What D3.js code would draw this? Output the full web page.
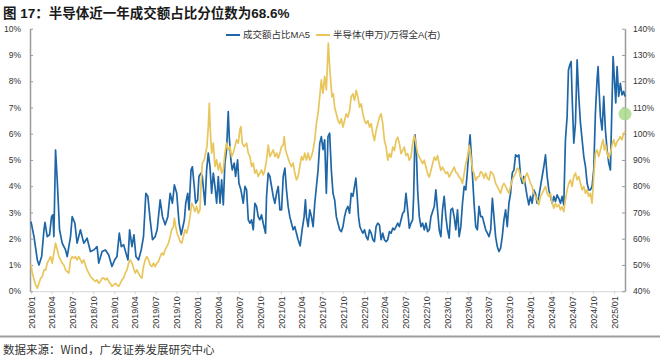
<!DOCTYPE html>
<html><head><meta charset="utf-8">
<script src="https://cdn.jsdelivr.net/npm/d3@7"></script>
<style>body{margin:0;background:#fff;}svg{display:block;}</style>
</head><body>
<svg id="chart" width="660" height="355"></svg>
<script>
const titleText = "图 17：半导体近一年成交额占比分位数为68.6%";
const sourceText = "数据来源：Wind，广发证券发展研究中心";
const legendLabels = ["成交额占比MA5", "半导体(申万)/万得全A(右)"];
const leftTicks = [0,1,2,3,4,5,6,7,8,9,10];
const rightTicks = [40,50,60,70,80,90,100,110,120,130,140];
const xTickLabels = ["2018/01","2018/04","2018/07","2018/10","2019/01","2019/04","2019/07","2019/10",
 "2020/01","2020/04","2020/07","2020/10","2021/01","2021/04","2021/07","2021/10",
 "2022/01","2022/04","2022/07","2022/10","2023/01","2023/04","2023/07","2023/10",
 "2024/01","2024/04","2024/07","2024/10","2025/01"];
const markerValue = 6.75;

// Blue: turnover share MA5 (%), dates as decimal years
const blueDates = [
2018.000,2018.036,2018.076,2018.096,2018.128,2018.156,2018.168,2018.195,2018.223,2018.247,
2018.263,2018.275,2018.295,2018.315,2018.343,2018.375,2018.415,2018.435,2018.475,2018.495,
2018.527,2018.554,2018.594,2018.634,2018.674,2018.714,2018.754,2018.794,2018.814,2018.854,
2018.894,2018.934,2018.973,2019.005,2019.033,2019.061,2019.085,2019.113,2019.141,2019.165,
2019.185,2019.213,2019.237,2019.261,2019.292,2019.324,2019.352,2019.380,2019.404,2019.432,
2019.460,2019.492,2019.516,2019.552,2019.580,2019.612,2019.644,2019.672,2019.699,2019.723,
2019.751,2019.779,2019.805,2019.843,2019.859,2019.883,2019.899,2019.923,2019.939,2019.962,
2019.978,2020.002,2020.018,2020.042,2020.058,2020.090,2020.110,2020.130,2020.150,2020.170,
2020.190,2020.210,2020.230,2020.250,2020.270,2020.290,2020.310,2020.329,2020.349,2020.369,
2020.381,2020.401,2020.417,2020.441,2020.457,2020.481,2020.497,2020.521,2020.549,2020.569,
2020.589,2020.609,2020.629,2020.649,2020.669,2020.688,2020.708,2020.728,2020.748,2020.768,
2020.788,2020.816,2020.828,2020.848,2020.868,2020.888,2020.908,2020.928,2020.948,2020.968,
2020.988,2021.008,2021.028,2021.048,2021.067,2021.087,2021.107,2021.127,2021.147,2021.167,
2021.187,2021.207,2021.231,2021.255,2021.279,2021.295,2021.307,2021.327,2021.347,2021.367,
2021.387,2021.407,2021.427,2021.447,2021.467,2021.486,2021.506,2021.526,2021.546,2021.566,
2021.586,2021.606,2021.626,2021.646,2021.666,2021.686,2021.706,2021.726,2021.746,2021.765,
2021.785,2021.805,2021.825,2021.845,2021.865,2021.885,2021.901,2021.917,2021.933,2021.949,
2021.965,2021.985,2022.005,2022.025,2022.045,2022.065,2022.085,2022.105,2022.124,2022.144,
2022.164,2022.184,2022.204,2022.224,2022.244,2022.264,2022.284,2022.304,2022.324,2022.344,
2022.364,2022.384,2022.404,2022.424,2022.444,2022.464,2022.483,2022.503,2022.523,2022.543,
2022.563,2022.583,2022.595,2022.611,2022.627,2022.643,2022.663,2022.683,2022.703,2022.723,
2022.743,2022.763,2022.783,2022.803,2022.823,2022.843,2022.862,2022.882,2022.902,2022.922,
2022.942,2022.962,2022.982,2023.002,2023.022,2023.042,2023.062,2023.082,2023.102,2023.122,
2023.142,2023.162,2023.182,2023.202,2023.222,2023.242,2023.262,2023.273,2023.289,2023.305,
2023.321,2023.341,2023.361,2023.381,2023.401,2023.421,2023.441,2023.461,2023.481,2023.501,
2023.521,2023.541,2023.560,2023.580,2023.600,2023.620,2023.640,2023.660,2023.680,2023.700,
2023.720,2023.740,2023.760,2023.780,2023.800,2023.820,2023.840,2023.860,2023.880,2023.900,
2023.919,2023.939,2023.959,2023.979,2023.999,2024.019,2024.039,2024.059,2024.079,2024.099,
2024.119,2024.139,2024.159,2024.179,2024.199,2024.219,2024.239,2024.259,2024.279,2024.298,
2024.318,2024.338,2024.358,2024.378,2024.398,2024.418,2024.438,2024.454,2024.470,2024.486,
2024.498,2024.518,2024.538,2024.558,2024.578,2024.598,2024.618,2024.638,2024.658,2024.678,
2024.697,2024.717,2024.737,2024.757,2024.777,2024.797,2024.809,2024.821,2024.837,2024.857,
2024.877,2024.897,2024.917,2024.937,2024.957,2024.973,2024.989,2025.005,2025.021,2025.037,
2025.056,2025.076,2025.096,2025.116,2025.132];
const blueValues = [
2.65,2.08,1.19,1.00,1.32,2.34,2.62,2.08,2.15,2.84,
2.91,2.08,5.38,4.24,2.34,1.83,1.57,1.32,2.08,2.84,
2.59,1.83,2.34,1.83,2.02,1.51,1.57,1.70,1.07,1.51,
1.57,1.38,0.94,1.19,1.32,2.21,1.70,1.77,1.45,1.19,
2.34,1.70,2.15,1.32,1.19,1.57,2.08,3.73,3.61,2.72,
1.96,2.08,2.34,3.48,2.84,2.53,2.84,3.73,3.35,4.05,
3.73,2.59,2.15,2.72,3.35,3.73,3.10,4.62,4.74,3.99,
3.35,3.48,4.37,4.50,4.37,3.29,4.62,5.26,4.75,3.73,
4.50,3.99,3.35,4.37,3.35,4.24,3.29,4.88,5.39,6.84,
5.89,5.00,4.62,4.88,4.37,5.00,4.11,3.86,3.35,3.99,
3.86,2.72,2.59,2.72,2.34,3.35,3.23,2.84,2.72,2.91,
2.59,2.21,3.61,4.50,4.37,3.99,3.61,3.35,3.73,3.99,
3.10,3.10,4.37,4.69,3.86,3.23,2.84,2.59,2.34,2.46,
2.21,1.96,1.73,2.34,2.84,3.48,2.84,2.46,3.10,2.84,
2.46,3.35,3.99,4.62,5.64,5.89,5.39,5.77,3.73,5.89,
6.02,4.62,3.73,3.48,2.84,2.59,2.34,2.27,2.46,2.84,
3.10,3.23,2.97,3.73,3.61,3.99,4.31,3.61,2.84,2.46,
2.34,2.21,2.34,2.08,1.96,2.34,2.21,1.96,1.89,2.46,
2.59,2.53,1.96,2.21,1.96,1.89,1.96,2.27,2.21,2.40,
2.34,2.46,2.59,2.46,2.72,2.97,3.04,3.73,3.10,2.40,
2.59,2.72,3.61,5.96,5.38,3.86,2.84,2.46,2.59,2.34,
2.59,2.27,2.34,2.84,3.04,3.23,3.86,3.10,2.34,2.08,
3.10,3.61,2.84,2.34,2.02,3.10,3.16,2.84,2.34,3.10,
2.08,2.46,3.35,3.99,3.86,4.62,5.51,5.96,5.13,4.24,
3.35,2.46,2.34,3.23,2.84,2.84,2.59,2.34,2.21,2.08,
2.34,3.54,2.84,2.08,1.70,1.51,1.64,2.08,2.72,3.10,
2.46,3.35,3.73,4.50,4.62,5.19,5.13,5.19,4.37,4.11,
4.37,3.99,3.61,3.29,3.61,3.35,3.86,3.73,3.35,3.61,
3.99,4.37,4.75,5.19,4.37,3.86,3.61,3.35,3.61,3.42,
3.67,3.54,3.35,3.61,3.29,5.77,6.65,8.43,8.62,8.75,
7.42,5.64,6.40,8.81,7.42,6.40,5.77,5.13,4.75,4.11,
3.86,3.86,3.99,4.62,6.79,8.06,8.56,7.67,6.65,6.14,
7.42,6.14,5.38,4.88,4.62,6.79,8.94,8.06,7.17,8.56,
7.42,7.92,7.48,7.61,7.42];

// Yellow: SW semiconductor / Wind All A (%, right axis)
const yellowDates = [
2018.000,2018.016,2018.048,2018.076,2018.096,2018.116,2018.136,2018.156,2018.176,2018.195,
2018.215,2018.235,2018.255,2018.275,2018.295,2018.315,2018.335,2018.355,2018.375,2018.395,
2018.415,2018.435,2018.455,2018.475,2018.495,2018.515,2018.534,2018.554,2018.574,2018.594,
2018.614,2018.634,2018.654,2018.674,2018.694,2018.714,2018.734,2018.754,2018.774,2018.794,
2018.814,2018.834,2018.854,2018.874,2018.894,2018.914,2018.934,2018.953,2018.973,2018.993,
2019.013,2019.033,2019.053,2019.073,2019.093,2019.113,2019.133,2019.153,2019.173,2019.193,
2019.213,2019.233,2019.253,2019.272,2019.292,2019.312,2019.332,2019.352,2019.372,2019.392,
2019.412,2019.432,2019.452,2019.472,2019.492,2019.512,2019.532,2019.552,2019.572,2019.592,
2019.612,2019.632,2019.652,2019.672,2019.691,2019.711,2019.723,2019.739,2019.755,
2019.771,2019.791,2019.811,2019.831,2019.851,2019.871,2019.891,2019.911,2019.931,2019.951,
2019.970,2019.990,2020.010,2020.030,2020.042,2020.058,2020.082,2020.098,2020.114,2020.130,
2020.142,2020.154,2020.170,2020.190,2020.210,2020.230,2020.250,2020.270,2020.290,2020.310,
2020.329,2020.349,2020.369,2020.389,2020.409,2020.429,2020.449,2020.469,2020.489,2020.509,
2020.521,2020.537,2020.561,2020.589,2020.609,2020.629,2020.649,2020.669,2020.688,2020.708,
2020.728,2020.748,2020.768,2020.788,2020.808,2020.828,2020.848,2020.868,2020.888,2020.908,
2020.928,2020.948,2020.968,2020.988,2021.008,2021.028,2021.040,2021.056,2021.080,2021.107,
2021.127,2021.147,2021.167,2021.187,2021.207,2021.227,2021.247,2021.267,2021.287,2021.307,
2021.327,2021.347,2021.367,2021.387,2021.407,2021.427,2021.447,2021.467,2021.486,2021.506,
2021.526,2021.546,2021.570,
2021.586,2021.598,2021.614,2021.630,2021.646,2021.666,2021.686,2021.706,2021.726,2021.746,
2021.765,2021.785,2021.805,2021.825,2021.845,2021.865,2021.885,2021.905,2021.925,2021.945,
2021.965,2021.985,2022.005,2022.025,2022.045,2022.065,2022.085,2022.105,2022.124,2022.144,
2022.164,2022.184,2022.204,2022.224,2022.244,2022.264,2022.284,2022.304,2022.324,2022.344,
2022.364,2022.384,2022.404,2022.424,2022.444,2022.464,2022.483,2022.503,2022.523,2022.543,
2022.563,2022.583,2022.603,2022.623,2022.643,2022.663,2022.683,2022.703,2022.723,2022.743,
2022.763,2022.783,2022.803,2022.823,2022.843,2022.862,2022.882,2022.902,2022.922,2022.942,
2022.962,2022.982,2023.002,2023.022,2023.042,2023.062,2023.082,2023.102,2023.122,2023.142,
2023.162,2023.182,2023.202,2023.222,2023.242,2023.262,2023.273,2023.289,2023.305,2023.321,
2023.341,2023.361,
2023.381,2023.401,2023.421,2023.441,2023.461,2023.481,2023.501,2023.521,2023.541,2023.560,
2023.580,2023.600,2023.620,2023.640,2023.660,2023.680,2023.700,2023.720,2023.740,2023.760,
2023.780,2023.800,2023.820,2023.840,2023.860,2023.880,2023.900,2023.919,2023.939,2023.959,
2023.979,2023.999,2024.019,2024.039,2024.059,2024.079,2024.099,2024.119,2024.139,2024.159,
2024.179,2024.199,2024.219,2024.239,2024.259,2024.279,2024.298,2024.318,2024.338,2024.358,
2024.378,2024.398,2024.418,2024.438,2024.458,2024.478,2024.498,2024.518,2024.538,2024.558,
2024.578,2024.598,2024.618,2024.638,2024.658,2024.678,2024.697,2024.717,2024.737,2024.757,
2024.777,2024.797,2024.817,2024.837,2024.857,2024.869,2024.885,2024.901,2024.917,2024.937,
2024.957,2024.977,2024.997,2025.017,2025.037,2025.056,2025.076,2025.096,2025.116,2025.132];
const yellowValues = [
50.0,46.9,43.0,41.1,43.0,44.9,45.6,48.1,48.1,50.7,
51.9,53.2,50.7,54.5,58.3,55.8,53.2,51.9,50.7,50.0,
48.1,47.5,46.9,51.9,53.2,52.6,53.2,51.9,53.2,51.9,
50.7,51.9,50.0,48.1,46.9,45.6,45.0,44.3,43.7,44.3,
43.0,43.7,45.0,45.0,44.3,45.0,43.7,43.0,41.8,42.4,
43.0,42.4,41.8,43.0,44.3,45.0,46.9,48.1,50.7,51.9,
50.7,48.7,46.9,48.1,46.9,45.6,45.0,49.4,51.9,53.2,
51.9,50.0,49.4,50.7,49.4,50.7,51.3,53.2,54.5,53.8,
55.8,57.0,58.3,60.8,63.4,64.6,67.8,64.6,62.1,
60.8,58.9,58.3,60.8,63.4,62.1,64.6,68.4,73.5,72.3,
70.4,72.3,69.7,71.0,79.9,88.8,90.0,92.6,95.1,102.7,
111.6,101.5,92.6,96.4,87.5,90.0,86.2,88.8,85.0,86.2,
92.6,96.4,93.8,95.1,91.3,92.6,95.1,97.7,96.4,101.5,
102.7,96.4,95.1,96.4,92.6,91.3,87.5,88.8,85.0,86.2,
83.7,85.0,86.2,84.3,86.2,90.0,95.7,91.3,92.6,93.8,
91.3,92.6,90.7,92.6,95.1,95.7,98.9,93.8,91.3,88.8,
87.5,88.8,85.0,82.4,83.7,87.5,91.3,90.0,92.6,90.0,
92.6,90.0,91.3,93.8,97.7,104.0,107.8,114.2,120.5,115.4,
121.8,116.7,134.5,
125.4,120.3,114.0,115.2,110.1,107.6,105.0,103.8,105.7,102.5,
105.0,107.6,106.3,108.8,114.0,115.2,112.7,116.5,114.0,110.1,
111.4,107.6,105.0,103.8,105.0,102.5,103.8,99.9,97.4,101.2,
103.8,106.3,107.6,103.8,97.4,94.9,89.9,92.4,91.1,94.9,
93.6,97.4,98.7,96.2,92.4,93.6,94.9,91.7,92.4,89.9,
91.1,96.2,99.3,96.2,92.4,91.1,89.9,88.6,89.9,87.3,
84.8,83.5,86.0,88.6,91.1,89.9,91.7,88.6,86.0,87.3,
86.0,84.8,85.4,83.5,84.8,86.0,87.3,85.4,84.8,83.5,
82.9,81.0,84.8,88.6,91.1,95.6,93.6,89.9,86.0,84.8,
82.2,83.5,
83.7,85.6,85.0,83.1,85.0,83.1,82.4,85.6,85.0,83.7,
81.1,79.9,78.6,77.3,79.9,81.1,79.9,78.6,77.3,79.9,
82.4,83.7,85.0,86.9,86.2,83.7,83.1,81.1,83.7,85.0,
83.1,81.1,79.9,77.3,76.1,74.8,72.9,76.1,77.3,78.6,
79.9,77.3,76.1,77.3,73.5,71.6,73.5,72.2,72.9,71.0,
72.2,70.3,74.8,78.6,81.1,82.4,79.9,83.7,85.0,82.4,
83.7,81.1,78.6,79.9,77.3,78.6,76.1,77.3,73.5,83.7,
92.6,93.8,91.3,93.8,96.4,97.7,93.8,95.7,92.6,90.7,
92.6,95.7,97.7,95.1,97.0,97.7,98.9,97.7,100.2,100.8];

const BLUE = "#1f66a6", YELLOW = "#e8c65c";
const latin = "'Liberation Sans', Arial, 'Noto Sans CJK SC', sans-serif";
const cjk = "'Noto Sans CJK SC', 'Liberation Sans', sans-serif";

function toDate(y) {
  const yr = Math.floor(y);
  const a = Date.UTC(yr, 0, 1), b = Date.UTC(yr + 1, 0, 1);
  return new Date(a + (y - yr) * (b - a));
}
const blue = blueDates.map((d, i) => ({ t: toDate(d), v: blueValues[i] }));
const yellow = yellowDates.map((d, i) => ({ t: toDate(d), v: yellowValues[i] }));
const tickDates = xTickLabels.map(s => { const [y, m] = s.split("/").map(Number); return new Date(Date.UTC(y, m - 1, 1)); });

const svg = d3.select("#chart");
const x = d3.scaleUtc().domain([toDate(2018.0), toDate(2025.132)]).range([31, 625]);
const yL = d3.scaleLinear().domain([0, 10]).range([291.2, 28.7]);
const yR = d3.scaleLinear().domain([40, 140]).range([291.2, 28.7]);

// Title
svg.append("text").attr("x", 3).attr("y", 17.5)
  .attr("font-family", latin).attr("font-weight", "bold").attr("font-size", "13.5px")
  .attr("fill", "#1a1a1a").text(titleText);

// Bottom axis
const gx = svg.append("g").attr("transform", "translate(0,291.2)")
  .call(d3.axisBottom(x).tickValues(tickDates).tickFormat((d, i) => xTickLabels[i]).tickSize(3).tickSizeOuter(0));
gx.select(".domain").attr("stroke", "#d6d6d6");
gx.selectAll(".tick line").attr("stroke", "#d6d6d6");
gx.selectAll("text").attr("transform", "rotate(-90)").attr("text-anchor", "end")
  .attr("x", -5).attr("y", 0).attr("dy", "0.35em")
  .attr("font-family", latin).attr("font-size", "9px").attr("fill", "#333");

// Left axis
const gl = svg.append("g").attr("transform", "translate(30,0)")
  .call(d3.axisLeft(yL).tickValues(leftTicks).tickFormat(d => d + "%").tickSize(-3).tickSizeOuter(0).tickPadding(9));
gl.select(".domain").attr("stroke", "#9a9a9a").attr("stroke-width", 1.5);
gl.selectAll(".tick line").attr("stroke", "#9a9a9a");
gl.selectAll("text").attr("font-family", latin).attr("font-size", "8.5px").attr("fill", "#333");

// Right axis
const gr = svg.append("g").attr("transform", "translate(625,0)")
  .call(d3.axisRight(yR).tickValues(rightTicks).tickFormat(d => d + "%").tickSize(-3).tickSizeOuter(0).tickPadding(8));
gr.select(".domain").attr("stroke", "#9a9a9a").attr("stroke-width", 1.5);
gr.selectAll(".tick line").attr("stroke", "#9a9a9a");
gr.selectAll("text").attr("font-family", latin).attr("font-size", "8.5px").attr("fill", "#333");

// Lines
const lineL = d3.line().x(d => x(d.t)).y(d => yL(d.v));
const lineR = d3.line().x(d => x(d.t)).y(d => yR(d.v));
svg.append("path").datum(blue).attr("d", lineL).attr("fill", "none")
  .attr("stroke", BLUE).attr("stroke-width", 1.7).attr("stroke-linejoin", "round");
svg.append("path").datum(yellow).attr("d", lineR).attr("fill", "none")
  .attr("stroke", YELLOW).attr("stroke-width", 1.7).attr("stroke-linejoin", "round");

// Marker
svg.append("circle").attr("cx", x(toDate(2025.132))).attr("cy", yL(markerValue)).attr("r", 6.5)
  .attr("fill", "#a8d98a").attr("fill-opacity", 0.85);

// Legend
const leg = [{ x: 226, c: BLUE, t: legendLabels[0] }, { x: 316, c: YELLOW, t: legendLabels[1] }];
leg.forEach(l => {
  svg.append("line").attr("x1", l.x).attr("x2", l.x + 14).attr("y1", 35).attr("y2", 35)
    .attr("stroke", l.c).attr("stroke-width", 2);
  svg.append("text").attr("x", l.x + 17).attr("y", 38.3).attr("font-family", latin)
    .attr("font-size", "9.5px").attr("fill", "#333").text(l.t);
});

// Separator & source
svg.append("line").attr("x1", 0).attr("x2", 660).attr("y1", 336.5).attr("y2", 336.5)
  .attr("stroke", "#9e9e9e").attr("stroke-width", 2);
svg.append("text").attr("x", 3).attr("y", 353.5).attr("font-family", cjk)
  .attr("font-size", "11.5px").attr("fill", "#333").text(sourceText);
</script>
</body></html>
